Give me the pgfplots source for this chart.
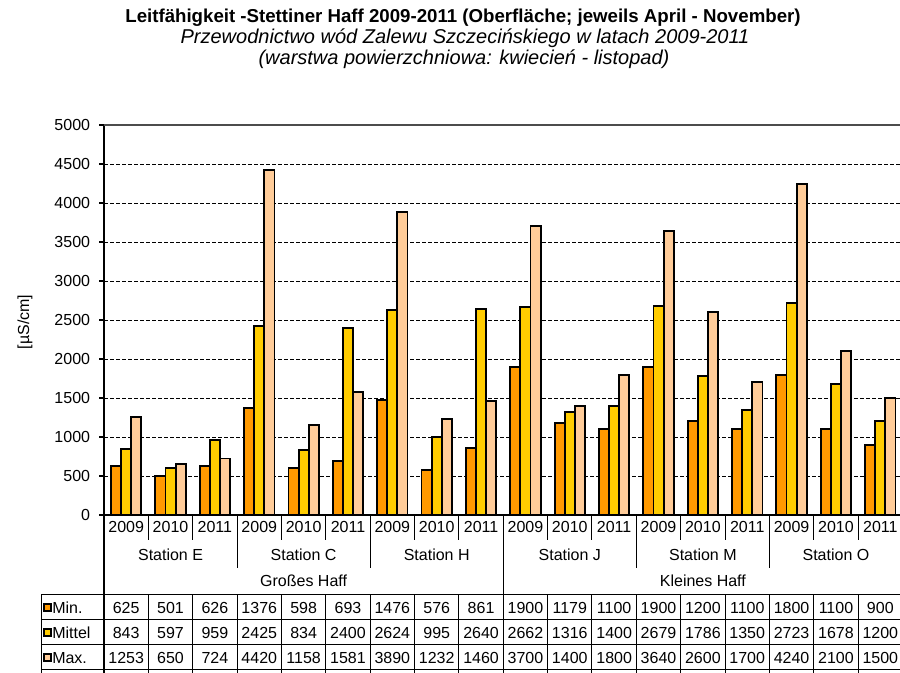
\documentclass[border=0pt]{standalone}
\usepackage{pgfplots}
\pgfplotsset{compat=1.18}
\usepackage{pgfplotstable}
\usepackage{fontspec}
\setmainfont{Liberation Sans}
\definecolor{cmin}{HTML}{FF9900}
\definecolor{cmit}{HTML}{FFCC00}
\definecolor{cmax}{HTML}{FFCC99}
\pgfplotstableread{
x min mittel max
0 625 843 1253
1 501 597 650
2 626 959 724
3 1376 2425 4420
4 598 834 1158
5 693 2400 1581
6 1476 2624 3890
7 576 995 1232
8 861 2640 1460
9 1900 2662 3700
10 1179 1316 1400
11 1100 1400 1800
12 1900 2679 3640
13 1200 1786 2600
14 1100 1350 1700
15 1800 2723 4240
16 1100 1678 2100
17 900 1200 1500
}\data
\newcommand\fs{\fontsize{12}{14}\selectfont}
\newcommand\ft{\fontsize{14}{16}\selectfont}
\newcommand\fti{\fontsize{15}{17}\selectfont}
\begin{document}
\begin{tikzpicture}[x=0.75pt,y=0.75pt]
\useasboundingbox (0,0) rectangle (900,673);
\begin{axis}[at={(78pt,118.5pt)}, anchor=south west,
  width=598.9pt, height=292.5pt, scale only axis,
  xmin=-0.5, xmax=17.5, ymin=0, ymax=5000,
  axis x line*=bottom, axis y line*=left,
  axis line style={-, black, line width=0.9pt},
  xtick=\empty,
  ytick={0,500,...,5000},
  ymajorgrids, grid style={black, dash pattern=on 3pt off 1.5pt, line width=0.6pt},
  tick align=outside, major tick length=3.75pt,
  ytick style={black, line width=0.8pt},
  yticklabel style={font=\fs, anchor=east, inner sep=0pt, xshift=-6.5pt},
  /pgf/number format/assume math mode=true, /pgf/number format/1000 sep={},
  ybar=0pt, bar width=7.6pt, clip=false]
\addplot[draw=black, fill=cmin, line width=1.4pt] table[x=x,y=min]{\data};
\addplot[draw=black, fill=cmit, line width=1.4pt] table[x=x,y=mittel]{\data};
\addplot[draw=black, fill=cmax, line width=1.4pt] table[x=x,y=max]{\data};
\draw[black!70, line width=1pt] (axis cs:-0.5,5000) -- (axis cs:17.5,5000);
\end{axis}
\begin{scope}[shift={(0,673)}, yscale=-1]
% title
\node[font=\bfseries\ft] at (463,18) {Leitfähigkeit -Stettiner Haff 2009-2011 (Oberfläche; jeweils April - November)};
\node[font=\itshape\fti] at (465,38) {Przewodnictwo wód Zalewu Szczecińskiego w latach 2009-2011};
\node[font=\itshape\fti] at (464,59) {(warstwa powierzchniowa: kwiecień - listopad)};
% y label
\node[font=\fs, rotate=90] at (25,322) {[µS/cm]};
% category axis labels
\foreach \k in {0,...,17} {
  \pgfmathtruncatemacro\yr{2009+mod(\k,3)}
  \node[font=\fs] at ({104+(\k+0.5)*44.361},527) {\yr};
}
\foreach \k in {1,...,17} {
  \draw[line width=0.75pt] ({104+\k*44.361},515) -- ({104+\k*44.361},540);
}
\foreach \k in {3,6,12,15} {
  \draw[line width=0.75pt] ({104+\k*44.361},515) -- ({104+\k*44.361},568);
}
\draw[line width=0.75pt] ({104+9*44.361},515) -- ({104+9*44.361},595);
\draw[line width=0.9pt] (104,515) -- (104,673);
\foreach \s [count=\i from 0] in {E,C,H,J,M,O} {
  \node[font=\fs] at ({104+(3*\i+1.5)*44.361},555) {Station \s};
}
\node[font=\fs] at ({104+4.5*44.361},581) {Großes Haff};
\node[font=\fs] at ({104+13.5*44.361},581) {Kleines Haff};
% data table
\foreach \yy in {595,620,645,670} {
  \draw[line width=0.75pt] (41,\yy) -- (900,\yy);
}
\draw[line width=0.75pt] (41,595) -- (41,673);
\foreach \k in {1,...,18} {
  \draw[line width=0.75pt] ({104+\k*44.361},595) -- ({104+\k*44.361},673);
}
\draw[fill=cmin, line width=0.9pt] (44,604) rectangle (51,611);
\draw[fill=cmit, line width=0.9pt] (44,629) rectangle (51,636);
\draw[fill=cmax, line width=0.9pt] (44,654) rectangle (51,661);
\node[font=\fs, anchor=west, inner sep=0pt] at (52,608) {Min.};
\node[font=\fs, anchor=west, inner sep=0pt] at (52,633) {Mittel};
\node[font=\fs, anchor=west, inner sep=0pt] at (52,658) {Max.};
\foreach \k in {0,...,17} {
  \pgfplotstablegetelem{\k}{min}\of\data \let\vmin\pgfplotsretval
  \pgfplotstablegetelem{\k}{mittel}\of\data \let\vmit\pgfplotsretval
  \pgfplotstablegetelem{\k}{max}\of\data \let\vmax\pgfplotsretval
  \node[font=\fs] at ({104+(\k+0.5)*44.361},608) {\vmin};
  \node[font=\fs] at ({104+(\k+0.5)*44.361},633) {\vmit};
  \node[font=\fs] at ({104+(\k+0.5)*44.361},658) {\vmax};
}
\end{scope}
\end{tikzpicture}
\end{document}
